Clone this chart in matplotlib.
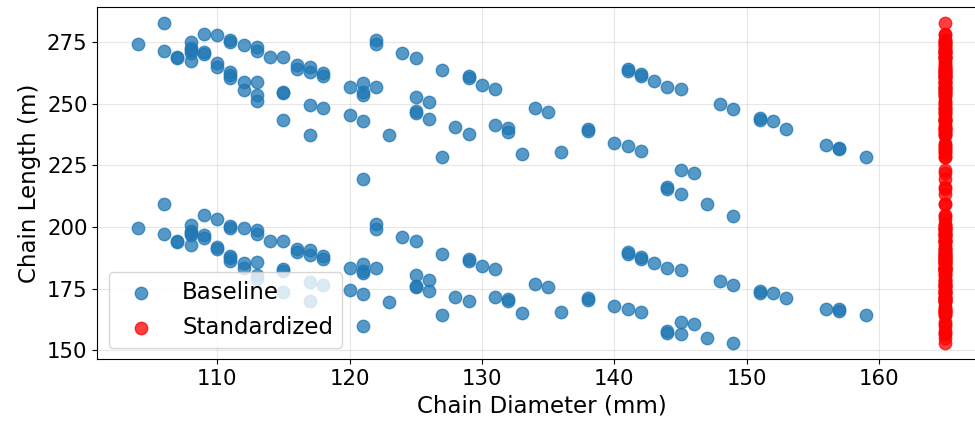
import matplotlib
matplotlib.use("Agg")
import matplotlib.pyplot as plt

# Baseline chain designs: diameter (mm) and length (m)
baseline_diameter_mm = [
    # upper band
    104, 106, 106, 107, 107, 108, 108, 108, 108, 108, 109, 109, 109,
    110, 110, 110, 111, 111, 111, 111, 111, 112, 112, 112,
    113, 113, 113, 113, 113, 114, 115, 115, 115, 115, 116, 116,
    117, 117, 117, 117, 118, 118, 118, 120, 120,
    121, 121, 121, 121, 121, 122, 122, 122, 123, 124,
    125, 125, 125, 125, 126, 126, 127, 127, 128, 129, 129, 129,
    130, 131, 131, 132, 132, 133, 134, 135, 136, 138, 138, 140,
    141, 141, 141, 142, 142, 142, 143, 144, 144, 144,
    145, 145, 145, 146, 147, 148, 149, 149, 151, 151, 152, 153,
    156, 157, 157, 159,
    # lower band
    104, 106, 106, 107, 107, 108, 108, 108, 108, 108, 109, 109, 109,
    110, 110, 110, 111, 111, 111, 111, 111, 112, 112, 112,
    113, 113, 113, 113, 113, 114, 115, 115, 115, 115, 116, 116,
    117, 117, 117, 117, 118, 118, 118, 120, 120,
    121, 121, 121, 121, 121, 122, 122, 122, 123, 124,
    125, 125, 125, 125, 126, 126, 127, 127, 128, 129, 129, 129,
    130, 131, 131, 132, 132, 133, 134, 135, 136, 138, 138, 140,
    141, 141, 141, 142, 142, 142, 143, 144, 144, 144,
    145, 145, 145, 146, 147, 148, 149, 149, 151, 151, 152, 153,
    156, 157, 157, 159,
]

baseline_length_m = [
    # upper band
    274.0, 282.5, 271.3, 268.9, 268.5, 275.0, 272.6, 271.5, 270.3, 267.2, 278.0, 271.0, 269.9,
    277.7, 266.6, 264.9, 275.7, 274.8, 262.8, 261.5, 260.2, 273.7, 258.8, 255.4,
    273.0, 271.2, 258.8, 253.4, 250.9, 268.7, 268.7, 254.8, 254.2, 243.5, 265.5, 264.2,
    264.9, 262.8, 249.3, 237.4, 262.2, 261.2, 248.0, 256.7, 245.3,
    258.5, 254.6, 253.6, 242.8, 219.6, 275.7, 274.0, 256.7, 237.4, 270.3,
    268.5, 252.7, 246.9, 246.0, 250.7, 243.9, 263.5, 228.2, 240.5, 261.2, 260.4, 237.8,
    257.7, 256.1, 241.2, 239.9, 238.3, 229.7, 248.2, 246.4, 230.4, 239.6, 238.8, 234.2,
    263.8, 263.0, 232.8, 261.8, 261.2, 230.7, 259.1, 256.7, 216.2, 215.2,
    255.8, 223.0, 213.2, 222.0, 209.4, 250.0, 247.7, 204.3, 244.0, 243.2, 243.0, 239.6,
    233.4, 232.2, 231.4, 228.5,
    # lower band
    199.7, 209.4, 197.3, 194.5, 194.0, 201.0, 198.3, 197.4, 196.6, 192.9, 204.7, 196.6, 195.7,
    203.4, 191.8, 190.9, 200.6, 199.7, 188.1, 187.3, 186.4, 199.7, 185.4, 183.5,
    198.6, 197.0, 185.7, 180.4, 179.0, 194.3, 194.3, 182.8, 182.0, 173.6, 191.2, 189.8,
    190.5, 188.5, 177.6, 169.9, 188.1, 187.1, 176.7, 183.5, 174.6,
    185.1, 182.2, 181.2, 173.0, 159.7, 201.3, 199.3, 183.3, 169.5, 195.9,
    194.2, 180.4, 176.3, 175.5, 178.7, 173.9, 189.2, 164.4, 171.6, 187.1, 186.3, 169.9,
    184.3, 183.1, 171.8, 170.9, 169.9, 165.1, 177.0, 175.6, 165.5, 171.3, 170.5, 167.8,
    189.8, 189.0, 166.8, 187.8, 187.0, 165.7, 185.4, 183.5, 157.8, 157.0,
    182.4, 161.4, 156.7, 160.8, 155.1, 178.3, 176.7, 152.9, 174.0, 173.2, 173.3, 171.3,
    166.8, 166.6, 165.8, 164.4,
]

# Standardized designs: every chain moved to a single diameter, lengths kept
standardized_diameter_mm = 165
standardized_length_m = list(baseline_length_m)

fig = plt.figure(figsize=(9.75, 4.21), dpi=100)
ax = fig.add_axes([0.0998, 0.1466, 0.9112, 0.836])

ax.scatter(baseline_diameter_mm, baseline_length_m, s=80, color="#1f77b4",
           alpha=0.75, label="Baseline", zorder=2)
ax.scatter([standardized_diameter_mm] * len(standardized_length_m),
           standardized_length_m, s=80, color="red", alpha=0.75,
           label="Standardized", zorder=2)

ax.set_xlabel("Chain Diameter (mm)", fontsize=16.5)
ax.set_ylabel("Chain Length (m)", fontsize=16.5)
ax.tick_params(labelsize=15.3)
ax.set_yticks([150, 175, 200, 225, 250, 275])
ax.set_xticks([110, 120, 130, 140, 150, 160])
ax.grid(True, alpha=0.3)
ax.set_axisbelow(True)
ax.legend(loc="lower left", fontsize=16.5)

fig.savefig("out.png", dpi=100)
